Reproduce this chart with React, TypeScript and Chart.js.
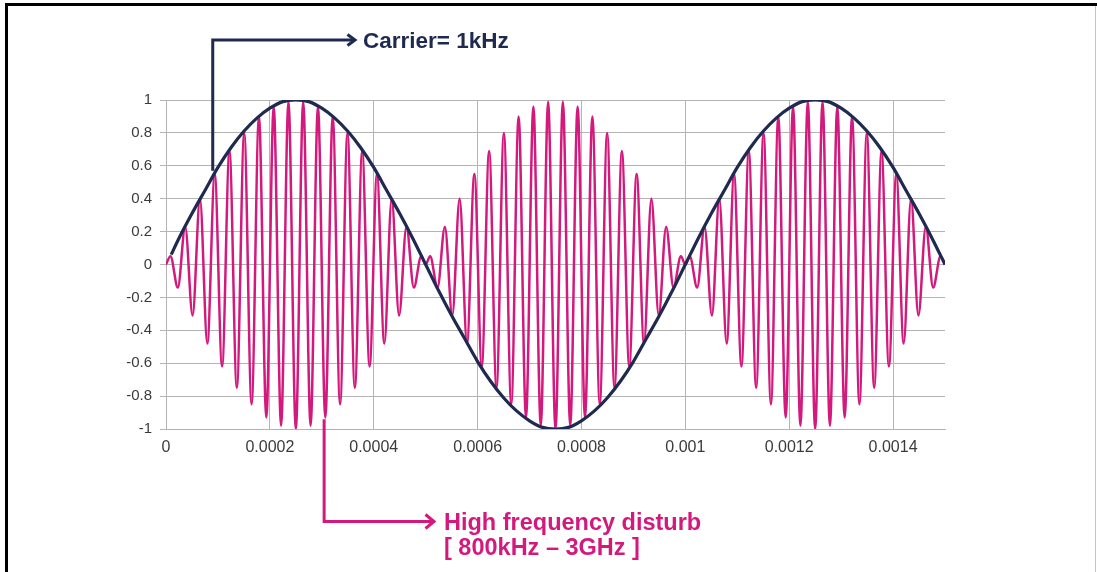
import React, { useEffect, useRef } from 'react';
import { Chart, registerables } from 'chart.js';

Chart.register(...registerables);

// ---- data (time in microseconds, converted to seconds for the axis) ----
const carrierTimeUs = [
  10, 25, 50, 75, 100, 125, 150, 175, 200, 225, 250, 275, 300, 325, 350, 375, 400, 425, 450, 475,
  500, 525, 550, 575, 600, 625, 650, 675, 700, 725, 750, 775, 800, 825, 850, 875, 900, 925, 950, 975,
  1000, 1025, 1050, 1075, 1100, 1125, 1150, 1175, 1200, 1225, 1250, 1275, 1300, 1325, 1350, 1375, 1400, 1425, 1450, 1475, 1500,
];
const carrierValues = [
  0.06, 0.16, 0.31, 0.45, 0.59, 0.71, 0.81, 0.89, 0.95, 0.99, 1, 0.99, 0.95, 0.89, 0.81, 0.71, 0.59, 0.45, 0.31, 0.16,
  0, -0.16, -0.31, -0.45, -0.59, -0.71, -0.81, -0.89, -0.95, -0.99, -1, -0.99, -0.95, -0.89, -0.81, -0.71, -0.59, -0.45, -0.31, -0.16,
  0, 0.16, 0.31, 0.45, 0.59, 0.71, 0.81, 0.89, 0.95, 0.99, 1, 0.99, 0.95, 0.89, 0.81, 0.71, 0.59, 0.45, 0.31, 0.16, 0,
];

const disturbTimeUs = [
  0, 8.6, 22.8, 37, 51.2, 65.4, 79.6, 93.8, 108, 122.2, 136.4, 150.6, 164.8, 179, 193.2, 207.4, 221.6, 235.8,
  250, 264.2, 278.4, 292.6, 306.8, 321, 335.2, 349.4, 363.6, 377.8, 392, 406.2, 420.4, 434.6, 448.8, 463, 477.2, 491.4,
  500, 508.6, 522.8, 537, 551.2, 565.4, 579.6, 593.8, 608, 622.2, 636.4, 650.6, 664.8, 679, 693.2, 707.4, 721.6, 735.8,
  750, 764.2, 778.4, 792.6, 806.8, 821, 835.2, 849.4, 863.6, 877.8, 892, 906.2, 920.4, 934.6, 948.8, 963, 977.2, 991.4,
  1000, 1008.6, 1022.8, 1037, 1051.2, 1065.4, 1079.6, 1093.8, 1108, 1122.2, 1136.4, 1150.6, 1164.8, 1179, 1193.2, 1207.4, 1221.6, 1235.8,
  1250, 1264.2, 1278.4, 1292.6, 1306.8, 1321, 1335.2, 1349.4, 1363.6, 1377.8, 1392, 1406.2, 1420.4, 1434.6, 1448.8, 1463, 1477.2, 1491.4,
  1500,
];
const disturbValues = [
  0, 0.05, -0.14, 0.23, -0.31, 0.4, -0.48, 0.55, -0.62, 0.69, -0.75, 0.8, -0.85, 0.9, -0.93, 0.96, -0.98, 0.99,
  -1, 0.99, -0.98, 0.96, -0.93, 0.9, -0.85, 0.8, -0.75, 0.69, -0.62, 0.55, -0.48, 0.4, -0.31, 0.23, -0.14, 0.05,
  0, 0.05, -0.14, 0.23, -0.31, 0.4, -0.48, 0.55, -0.62, 0.69, -0.75, 0.8, -0.85, 0.9, -0.93, 0.96, -0.98, 0.99,
  -1, 0.99, -0.98, 0.96, -0.93, 0.9, -0.85, 0.8, -0.75, 0.69, -0.62, 0.55, -0.48, 0.4, -0.31, 0.23, -0.14, 0.05,
  0, 0.05, -0.14, 0.23, -0.31, 0.4, -0.48, 0.55, -0.62, 0.69, -0.75, 0.8, -0.85, 0.9, -0.93, 0.96, -0.98, 0.99,
  -1, 0.99, -0.98, 0.96, -0.93, 0.9, -0.85, 0.8, -0.75, 0.69, -0.62, 0.55, -0.48, 0.4, -0.31, 0.23, -0.14, 0.05,
  0,
];

const xTickValues = [0, 0.0002, 0.0004, 0.0006, 0.0008, 0.001, 0.0012, 0.0014];
const yTickValues = [-1, -0.8, -0.6, -0.4, -0.2, 0, 0.2, 0.4, 0.6, 0.8, 1];

const carrierLabel = 'Carrier= 1kHz';
const disturbLabelLines = ['High frequency disturb', '[ 800kHz \u2013 3GHz ]'];
const carrierNotePoint = { t: 0.00009, v: 0.57 };
const disturbNotePoint = { t: 0.0003045, v: -0.94 };

const NAVY = '#1e2a50';
const MAGENTA = '#d3197c';
const GRID = '#b4b4b4';
const FONT = "'Liberation Sans', Arial, sans-serif";

const fmt = (v: number) => String(parseFloat(Number(v).toFixed(6)));

const annotatePlugin = {
  id: 'annotate',
  beforeDraw(chart: any) {
    const ctx = chart.ctx;
    ctx.save();
    ctx.fillStyle = '#000';
    ctx.fillRect(5, 3, 1092, 3);
    ctx.fillRect(5, 3, 3, 569);
    ctx.fillStyle = '#c4c4c4';
    ctx.fillRect(1095, 6, 1, 566);
    ctx.restore();
  },
  afterDraw(chart: any) {
    const { ctx } = chart;
    const xs = chart.scales.x;
    const ys = chart.scales.y;
    ctx.save();
    ctx.lineCap = 'butt';
    ctx.lineJoin = 'miter';
    ctx.lineWidth = 3;

    // carrier callout
    const cx = xs.getPixelForValue(carrierNotePoint.t);
    const cy = ys.getPixelForValue(carrierNotePoint.v);
    ctx.strokeStyle = NAVY;
    ctx.beginPath();
    ctx.moveTo(cx, cy);
    ctx.lineTo(cx, 40);
    ctx.lineTo(354, 40);
    ctx.stroke();
    ctx.beginPath();
    ctx.moveTo(347.5, 34.5);
    ctx.lineTo(355, 40);
    ctx.lineTo(347.5, 45.5);
    ctx.stroke();
    ctx.fillStyle = NAVY;
    ctx.font = `bold 22.5px ${FONT}`;
    ctx.textBaseline = 'alphabetic';
    ctx.textAlign = 'left';
    ctx.fillText(carrierLabel, 363, 47.5);

    // disturb callout
    const mx = xs.getPixelForValue(disturbNotePoint.t);
    const my = ys.getPixelForValue(disturbNotePoint.v);
    ctx.strokeStyle = MAGENTA;
    ctx.beginPath();
    ctx.moveTo(mx, my);
    ctx.lineTo(mx, 521.5);
    ctx.lineTo(433, 521.5);
    ctx.stroke();
    ctx.beginPath();
    ctx.moveTo(425.5, 514.5);
    ctx.lineTo(434, 521.5);
    ctx.lineTo(425.5, 528.5);
    ctx.stroke();
    ctx.fillStyle = MAGENTA;
    ctx.font = `bold 23.5px ${FONT}`;
    ctx.fillText(disturbLabelLines[0], 444, 530);
    ctx.fillText(disturbLabelLines[1], 444, 554.5);
    ctx.restore();
  },
};

export default function App() {
  const canvasRef = useRef<HTMLCanvasElement | null>(null);

  useEffect(() => {
    const canvas = canvasRef.current;
    if (!canvas) return;
    const carrierData = carrierTimeUs.map((t, i) => ({ x: t / 1e6, y: carrierValues[i] }));
    const disturbData = disturbTimeUs.map((t, i) => ({ x: t / 1e6, y: disturbValues[i] }));

    const chart = new Chart(canvas, {
      type: 'line',
      data: {
        datasets: [
          {
            label: 'Carrier',
            data: carrierData,
            borderColor: NAVY,
            borderWidth: 3.2,
            pointRadius: 0,
            cubicInterpolationMode: 'monotone',
            fill: false,
          },
          {
            label: 'Disturb',
            data: disturbData,
            borderColor: MAGENTA,
            borderWidth: 2.5,
            pointRadius: 0,
            cubicInterpolationMode: 'monotone',
            fill: false,
          },
        ],
      },
      options: {
        responsive: false,
        devicePixelRatio: 1,
        animation: false,
        events: [],
        layout: { padding: { left: 66, top: 100, right: 152, bottom: 103 } },
        plugins: { legend: { display: false }, tooltip: { enabled: false } },
        scales: {
          x: {
            type: 'linear',
            min: 0,
            max: 0.0015,
            afterBuildTicks: (axis: any) => {
              axis.ticks = xTickValues.map((v) => ({ value: v }));
            },
            afterFit: (axis: any) => {
              axis.height = 40;
            },
            ticks: {
              autoSkip: false,
              maxRotation: 0,
              padding: 9,
              color: '#3a3a3a',
              font: { family: FONT, size: 16 },
              callback: (v: any) => fmt(v),
            },
            grid: { color: GRID, lineWidth: 1, drawTicks: false },
            border: { color: GRID, width: 1 },
          },
          y: {
            type: 'linear',
            min: -1,
            max: 1,
            afterBuildTicks: (axis: any) => {
              axis.ticks = yTickValues.map((v) => ({ value: v }));
            },
            afterFit: (axis: any) => {
              axis.width = 100;
            },
            ticks: {
              autoSkip: false,
              padding: 8,
              color: '#3a3a3a',
              font: { family: FONT, size: 15 },
              callback: (v: any) => fmt(v),
            },
            grid: { color: GRID, lineWidth: 1, drawTicks: true, tickLength: 6 },
            border: { color: GRID, width: 1 },
          },
        },
      },
      plugins: [annotatePlugin],
    });
    return () => chart.destroy();
  }, []);

  return (
    <div style={{ position: 'fixed', left: 0, top: 0, width: 1097, height: 572, background: '#fff' }}>
      <canvas ref={canvasRef} width={1097} height={572} style={{ display: 'block' }} />
    </div>
  );
}
